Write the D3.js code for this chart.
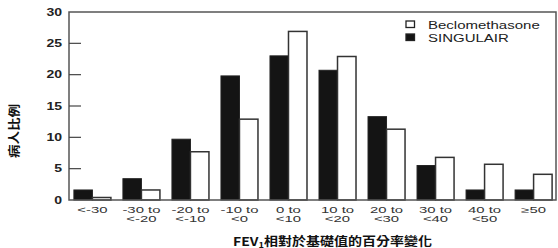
<!DOCTYPE html>
<html>
<head>
<meta charset="utf-8">
<script src="https://cdn.jsdelivr.net/npm/d3@7"></script>
<style>
  body { margin: 0; background: #fff; }
  svg { display: block; }
</style>
</head>
<body>
<div id="chart"></div>
<script>
'use strict';

// Data (percent of patients)
var categories = ['<-30', '-30 to\n<-20', '-20 to\n<-10', '-10 to\n<0', '0 to\n<10',
  '10 to\n<20', '20 to\n<30', '30 to\n<40', '40 to\n<50', '\u226550'];
var singulair = [1.6, 3.4, 9.7, 19.8, 23.0, 20.7, 13.3, 5.5, 1.6, 1.6];
var beclomethasone = [0.4, 1.6, 7.7, 12.9, 26.9, 22.9, 11.3, 6.8, 5.7, 4.1];
var seriesNames = ['Beclomethasone', 'SINGULAIR'];
var yTicks = [0, 5, 10, 15, 20, 25, 30];

(function () {
  var width = 558,
    height = 248,
    pLeft = 69,
    pRight = 557,
    pTop = 12,
    pBottom = 200,
    stretch = 1.5,
    latin = '"Liberation Sans", Arial, Helvetica, sans-serif',
    cjk = '"Noto Sans CJK TC", "Noto Sans CJK SC", sans-serif';

  // the original is squashed vertically, so widen the glyphs
  function widen(sel, k) {
    sel.each(function () {
      var len = this.getComputedTextLength();
      d3.select(this)
        .attr('textLength', len * k)
        .attr('lengthAdjust', 'spacingAndGlyphs');
    });
  }

  var svg = d3.select('#chart').append('svg')
    .attr('width', width)
    .attr('height', height);

  var x = d3.scaleBand()
    .domain(d3.range(categories.length))
    .range([pLeft, pRight])
    .paddingInner(0.245)
    .paddingOuter(0.1);

  var x1 = d3.scaleBand()
    .domain([0, 1])
    .range([0, x.bandwidth()]);

  var y = d3.scaleLinear()
    .domain([0, 30])
    .range([pBottom, pTop]);

  // Bars
  var groups = svg.selectAll('.grp')
    .data(categories)
    .enter().append('g')
    .attr('class', 'grp')
    .attr('transform', function (d, i) { return 'translate(' + x(i) + ',0)'; });

  groups.append('rect')
    .attr('x', x1(0))
    .attr('y', function (d, i) { return y(singulair[i]); })
    .attr('width', x1.bandwidth())
    .attr('height', function (d, i) { return pBottom - y(singulair[i]); })
    .style('fill', '#141414')
    .style('stroke', '#222')
    .style('stroke-width', 1);

  groups.append('rect')
    .attr('x', x1(1))
    .attr('y', function (d, i) { return y(beclomethasone[i]); })
    .attr('width', x1.bandwidth())
    .attr('height', function (d, i) { return pBottom - y(beclomethasone[i]); })
    .style('fill', '#fff')
    .style('stroke', '#333')
    .style('stroke-width', 1.5);

  // Frame
  svg.append('rect')
    .attr('x', pLeft)
    .attr('y', pTop)
    .attr('width', pRight - 1 - pLeft)
    .attr('height', pBottom - pTop)
    .style('fill', 'none')
    .style('stroke', '#555')
    .style('stroke-width', 1.5);

  // Y ticks (inside) and labels
  svg.selectAll('.ytick')
    .data(yTicks.filter(function (d) { return d > 0 && d < 30; }))
    .enter().append('line')
    .attr('class', 'ytick')
    .attr('x1', pLeft)
    .attr('x2', pLeft + 12)
    .attr('y1', function (d) { return y(d); })
    .attr('y2', function (d) { return y(d); })
    .style('stroke', '#444')
    .style('stroke-width', 1.2);

  svg.selectAll('.ylab')
    .data(yTicks)
    .enter().append('text')
    .attr('class', 'ylab')
    .attr('x', 62)
    .attr('y', function (d) { return y(d); })
    .attr('dy', '0.36em')
    .attr('text-anchor', 'end')
    .style('font-family', latin)
    .style('font-size', '10px')
    .style('font-weight', 'bold')
    .style('fill', '#222')
    .text(String)
    .call(widen, 1.4);

  // X category labels, up to two lines
  groups.each(function (d) {
    var g = d3.select(this);
    d.split('\n').forEach(function (s, j) {
      g.append('text')
        .attr('x', x.bandwidth() / 2)
        .attr('y', 213 + j * 8.5)
        .attr('text-anchor', 'middle')
        .style('font-family', latin)
        .style('font-size', '8.5px')
        .style('fill', '#333')
        .text(s)
        .call(widen, 1.75);
    });
  });

  // Legend
  var legend = svg.selectAll('.leg')
    .data(seriesNames)
    .enter().append('g')
    .attr('class', 'leg')
    .attr('transform', function (d, i) { return 'translate(406,' + (21 + i * 13) + ')'; });

  legend.append('rect')
    .attr('width', 8.5)
    .attr('height', 6.5)
    .style('fill', function (d, i) { return i === 0 ? '#fff' : '#141414'; })
    .style('stroke', '#222')
    .style('stroke-width', 1.3);

  legend.append('text')
    .attr('x', 22)
    .attr('y', 7.5)
    .style('font-family', latin)
    .style('font-size', '10px')
    .style('fill', '#222')
    .text(function (d) { return d; })
    .call(widen, stretch);

  // Axis titles
  svg.append('text')
    .attr('transform', 'translate(18.5,131) rotate(-90)')
    .attr('text-anchor', 'middle')
    .attr('textLength', 54)
    .attr('lengthAdjust', 'spacingAndGlyphs')
    .style('font-family', cjk)
    .style('font-size', '12px')
    .style('font-weight', 'bold')
    .style('fill', '#111')
    .text('病人比例');

  var xt = svg.append('text')
    .attr('x', 233)
    .attr('y', 245.5)
    .style('font-family', cjk)
    .style('font-size', '12px')
    .style('font-weight', 'bold')
    .style('fill', '#111');
  xt.append('tspan').text('FEV');
  xt.append('tspan').attr('dy', 2).style('font-size', '8px').text('1');
  xt.append('tspan').attr('dy', -2).text('相對於基礎值的百分率變化');
  xt.attr('textLength', 199).attr('lengthAdjust', 'spacingAndGlyphs');
})();
</script>
</body>
</html>
